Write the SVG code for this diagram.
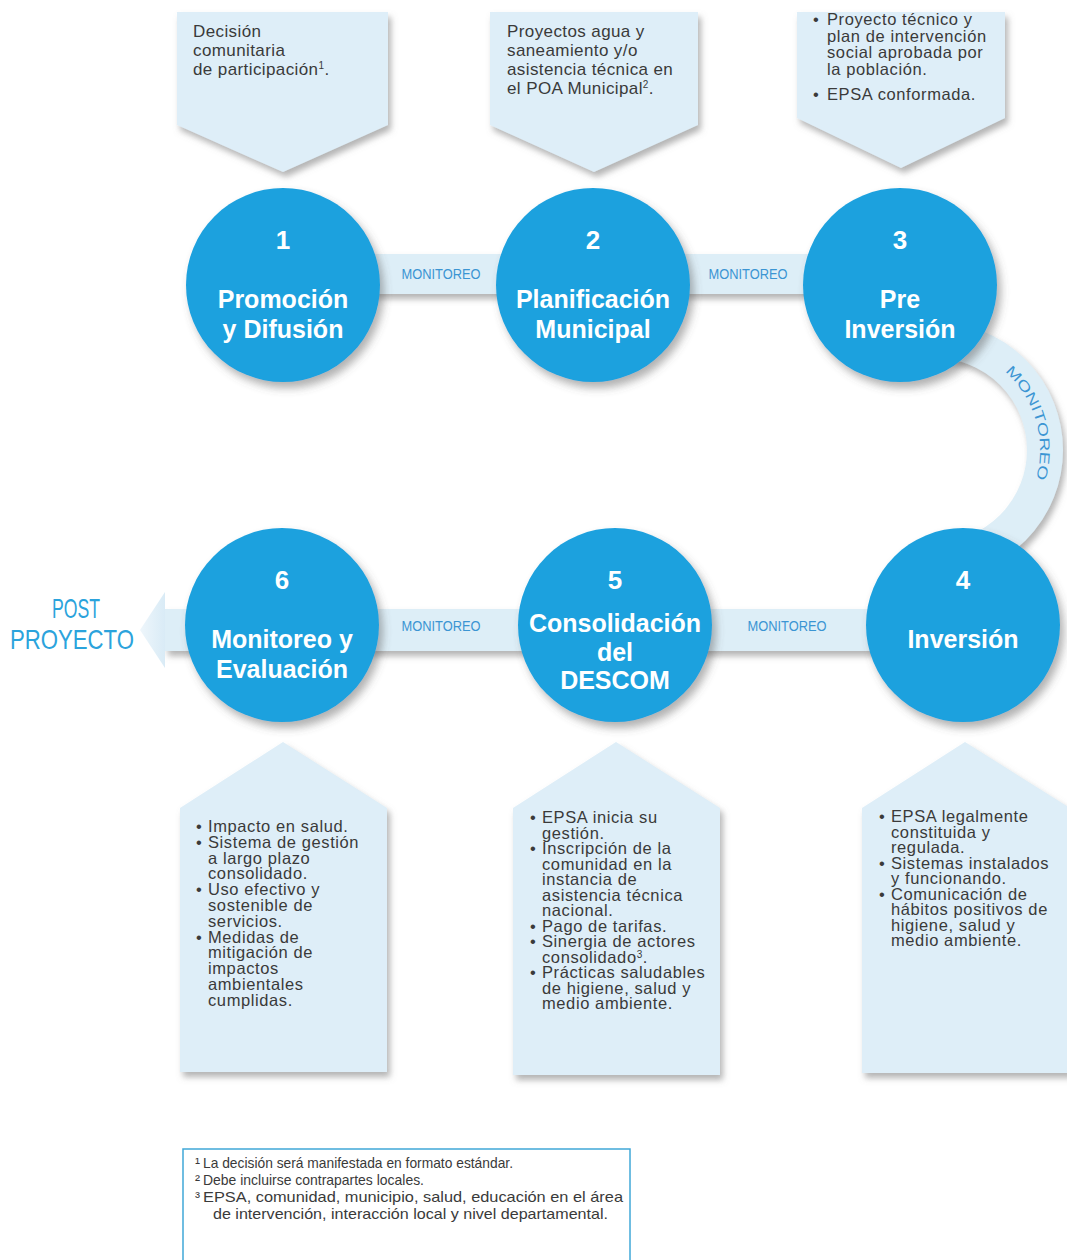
<svg xmlns="http://www.w3.org/2000/svg" width="1067" height="1260" viewBox="0 0 1067 1260">
<defs>
<filter id="sh" x="-20%" y="-20%" width="150%" height="150%">
<feDropShadow dx="3" dy="5" stdDeviation="3" flood-color="#777" flood-opacity="0.55"/>
</filter>
<filter id="csh" x="-20%" y="-20%" width="150%" height="150%">
<feDropShadow dx="4" dy="6" stdDeviation="4" flood-color="#555" flood-opacity="0.45"/>
</filter>
<linearGradient id="arrowg" x1="0" y1="0" x2="1" y2="0">
<stop offset="0" stop-color="#eef6fb"/>
<stop offset="1" stop-color="#d9ebf6"/>
</linearGradient>
<path id="arcText" d="M 935 345 A 105 105 0 0 1 935 555"/>
</defs>
<style>
.box{fill:#deeef8;filter:url(#sh);}
.band{fill:#ddeef7;filter:url(#sh);}
.circ{fill:#1da1de;filter:url(#csh);}
.bt{font-family:"Liberation Sans",Arial,sans-serif;font-size:16.5px;letter-spacing:0.6px;fill:#3a3a3a;}
.tt{font-family:"Liberation Sans",Arial,sans-serif;font-size:17px;letter-spacing:0.4px;fill:#3a3a3a;}
.num{font-family:"Liberation Sans",Arial,sans-serif;font-size:26px;font-weight:bold;fill:#fff;text-anchor:middle;}
.ct{font-family:"Liberation Sans",Arial,sans-serif;font-size:25px;font-weight:bold;fill:#fff;text-anchor:middle;}
.mon{font-family:"Liberation Sans",Arial,sans-serif;font-size:14px;fill:#3b95d3;text-anchor:middle;}
.post{font-family:"Liberation Sans",Arial,sans-serif;font-size:28px;fill:#2ba3dc;}
.fn{font-family:"Liberation Sans",Arial,sans-serif;font-size:15px;fill:#3a3a3a;}
</style>
<rect width="1067" height="1260" fill="#ffffff"/>

<g id="connectors">
<rect class="band" x="283" y="254" width="617" height="40"/>
<path d="M 935 340 A 110 110 0 0 1 935 560" fill="none" stroke="#ddeef7" stroke-width="36" filter="url(#sh)"/>
<rect class="band" x="165" y="609" width="798" height="42"/>
<polygon points="165,592 140,630 165,668" fill="url(#arrowg)"/>
<text class="mon" x="441" y="279" textLength="79" lengthAdjust="spacingAndGlyphs">MONITOREO</text>
<text class="mon" x="748" y="279" textLength="79" lengthAdjust="spacingAndGlyphs">MONITOREO</text>
<text class="mon" x="441" y="631" textLength="79" lengthAdjust="spacingAndGlyphs">MONITOREO</text>
<text class="mon" x="787" y="631" textLength="79" lengthAdjust="spacingAndGlyphs">MONITOREO</text>
<text class="mon"><textPath href="#arcText" startOffset="41%" textLength="118" lengthAdjust="spacingAndGlyphs">MONITOREO</textPath></text>
<text class="post" x="52" y="618" textLength="48" lengthAdjust="spacingAndGlyphs">POST</text>
<text class="post" x="10" y="649" textLength="124" lengthAdjust="spacingAndGlyphs">PROYECTO</text>
</g>

<g id="top1">
<polygon class="box" points="177,12 388,12 388,125 283,172 177,125"/>
<text class="tt" x="193" y="37">Decisión</text>
<text class="tt" x="193" y="56">comunitaria</text>
<text class="tt" x="193" y="75">de participación<tspan dy="-6" font-size="10">1</tspan><tspan dy="6">.</tspan></text>
</g>
<g id="top2">
<polygon class="box" points="490,12 698,12 698,125 594,172 490,125"/>
<text class="tt" x="507" y="37">Proyectos agua y</text>
<text class="tt" x="507" y="56">saneamiento y/o</text>
<text class="tt" x="507" y="75">asistencia técnica en</text>
<text class="tt" x="507" y="94">el POA Municipal<tspan dy="-6" font-size="10">2</tspan><tspan dy="6">.</tspan></text>
</g>
<g id="top3">
<polygon class="box" points="797,12 1005,12 1005,118 901,168 797,118"/>
<text class="bt" x="813" y="25">•</text>
<text class="bt" x="827" y="25">Proyecto técnico y</text>
<text class="bt" x="827" y="41.5">plan de intervención</text>
<text class="bt" x="827" y="58">social aprobada por</text>
<text class="bt" x="827" y="74.5">la población.</text>
<text class="bt" x="813" y="100">•</text>
<text class="bt" x="827" y="100">EPSA conformada.</text>
</g>

<g id="node1">
<circle class="circ" cx="283" cy="285" r="97"/>
<text class="num" x="283" y="249">1</text>
<text class="ct" x="283" y="308">Promoción</text>
<text class="ct" x="283" y="338">y Difusión</text>
</g>
<g id="node2">
<circle class="circ" cx="593" cy="285" r="97"/>
<text class="num" x="593" y="249">2</text>
<text class="ct" x="593" y="308">Planificación</text>
<text class="ct" x="593" y="338">Municipal</text>
</g>
<g id="node3">
<circle class="circ" cx="900" cy="285" r="97"/>
<text class="num" x="900" y="249">3</text>
<text class="ct" x="900" y="308">Pre</text>
<text class="ct" x="900" y="338">Inversión</text>
</g>
<g id="node4">
<circle class="circ" cx="963" cy="625" r="97"/>
<text class="num" x="963" y="589">4</text>
<text class="ct" x="963" y="648">Inversión</text>
</g>
<g id="node5">
<circle class="circ" cx="615" cy="625" r="97"/>
<text class="num" x="615" y="589">5</text>
<text class="ct" x="615" y="632">Consolidación</text>
<text class="ct" x="615" y="661">del</text>
<text class="ct" x="615" y="689">DESCOM</text>
</g>
<g id="node6">
<circle class="circ" cx="282" cy="625" r="97"/>
<text class="num" x="282" y="589">6</text>
<text class="ct" x="282" y="648">Monitoreo y</text>
<text class="ct" x="282" y="678">Evaluación</text>
</g>

<g id="bottom6">
<polygon class="box" points="180,808 283,742 387,808 387,1072 180,1072"/>
<text class="bt" x="196" y="832">•</text>
<text class="bt" x="208" y="832">Impacto en salud.</text>
<text class="bt" x="196" y="847.8">•</text>
<text class="bt" x="208" y="847.8">Sistema de gestión</text>
<text class="bt" x="208" y="863.6">a largo plazo</text>
<text class="bt" x="208" y="879.4">consolidado.</text>
<text class="bt" x="196" y="895.2">•</text>
<text class="bt" x="208" y="895.2">Uso efectivo y</text>
<text class="bt" x="208" y="911">sostenible de</text>
<text class="bt" x="208" y="926.8">servicios.</text>
<text class="bt" x="196" y="942.6">•</text>
<text class="bt" x="208" y="942.6">Medidas de</text>
<text class="bt" x="208" y="958.4">mitigación de</text>
<text class="bt" x="208" y="974.2">impactos</text>
<text class="bt" x="208" y="990">ambientales</text>
<text class="bt" x="208" y="1005.8">cumplidas.</text>
</g>
<g id="bottom5">
<polygon class="box" points="513,808 616,742 720,808 720,1075 513,1075"/>
<text class="bt" x="530" y="823">•</text>
<text class="bt" x="542" y="823">EPSA inicia su</text>
<text class="bt" x="542" y="838.5">gestión.</text>
<text class="bt" x="530" y="854">•</text>
<text class="bt" x="542" y="854">Inscripción de la</text>
<text class="bt" x="542" y="869.5">comunidad en la</text>
<text class="bt" x="542" y="885">instancia de</text>
<text class="bt" x="542" y="900.5">asistencia técnica</text>
<text class="bt" x="542" y="916">nacional.</text>
<text class="bt" x="530" y="931.5">•</text>
<text class="bt" x="542" y="931.5">Pago de tarifas.</text>
<text class="bt" x="530" y="947">•</text>
<text class="bt" x="542" y="947">Sinergia de actores</text>
<text class="bt" x="542" y="962.5">consolidado<tspan dy="-5" font-size="10">3</tspan><tspan dy="5">.</tspan></text>
<text class="bt" x="530" y="978">•</text>
<text class="bt" x="542" y="978">Prácticas saludables</text>
<text class="bt" x="542" y="993.5">de higiene, salud y</text>
<text class="bt" x="542" y="1009">medio ambiente.</text>
</g>
<g id="bottom4">
<polygon class="box" points="862,808 965,742 1070,808 1070,1073 862,1073"/>
<text class="bt" x="879" y="822">•</text>
<text class="bt" x="891" y="822">EPSA legalmente</text>
<text class="bt" x="891" y="837.5">constituida y</text>
<text class="bt" x="891" y="853">regulada.</text>
<text class="bt" x="879" y="868.5">•</text>
<text class="bt" x="891" y="868.5">Sistemas instalados</text>
<text class="bt" x="891" y="884">y funcionando.</text>
<text class="bt" x="879" y="899.5">•</text>
<text class="bt" x="891" y="899.5">Comunicación de</text>
<text class="bt" x="891" y="915">hábitos positivos de</text>
<text class="bt" x="891" y="930.5">higiene, salud y</text>
<text class="bt" x="891" y="946">medio ambiente.</text>
</g>

<g id="footnotes">
<rect x="183" y="1149" width="447" height="130" fill="#ffffff" stroke="#40a8d8" stroke-width="1.5"/>
<text class="fn" x="195" y="1168">¹</text>
<text class="fn" x="203" y="1168" textLength="310" lengthAdjust="spacingAndGlyphs">La decisión será manifestada en formato estándar.</text>
<text class="fn" x="195" y="1185">²</text>
<text class="fn" x="203" y="1185" textLength="221" lengthAdjust="spacingAndGlyphs">Debe incluirse contrapartes locales.</text>
<text class="fn" x="195" y="1202">³</text>
<text class="fn" x="203" y="1202" textLength="420" lengthAdjust="spacingAndGlyphs">EPSA, comunidad, municipio, salud, educación en el área</text>
<text class="fn" x="213" y="1219" textLength="395" lengthAdjust="spacingAndGlyphs">de intervención, interacción local y nivel departamental.</text>
</g>
</svg>
